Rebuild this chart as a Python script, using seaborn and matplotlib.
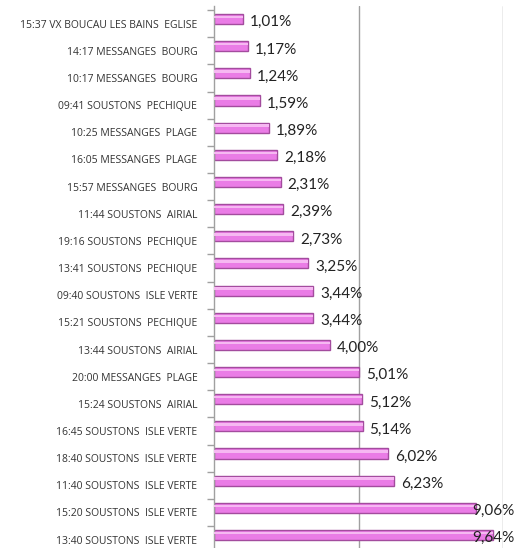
import matplotlib
matplotlib.use("Agg")
import matplotlib.pyplot as plt
import seaborn as sns
import pandas as pd
from matplotlib.ticker import FixedLocator

stops = [
    "15:37 VX BOUCAU LES BAINS  EGLISE",
    "14:17 MESSANGES  BOURG",
    "10:17 MESSANGES  BOURG",
    "09:41 SOUSTONS  PECHIQUE",
    "10:25 MESSANGES  PLAGE",
    "16:05 MESSANGES  PLAGE",
    "15:57 MESSANGES  BOURG",
    "11:44 SOUSTONS  AIRIAL",
    "19:16 SOUSTONS  PECHIQUE",
    "13:41 SOUSTONS  PECHIQUE",
    "09:40 SOUSTONS  ISLE VERTE",
    "15:21 SOUSTONS  PECHIQUE",
    "13:44 SOUSTONS  AIRIAL",
    "20:00 MESSANGES  PLAGE",
    "15:24 SOUSTONS  AIRIAL",
    "16:45 SOUSTONS  ISLE VERTE",
    "18:40 SOUSTONS  ISLE VERTE",
    "11:40 SOUSTONS  ISLE VERTE",
    "15:20 SOUSTONS  ISLE VERTE",
    "13:40 SOUSTONS  ISLE VERTE",
]
shares = [1.01, 1.17, 1.24, 1.59, 1.89, 2.18, 2.31, 2.39, 2.73, 3.25,
          3.44, 3.44, 4.00, 5.01, 5.12, 5.14, 6.02, 6.23, 9.06, 9.64]

df = pd.DataFrame({"stop": stops, "share": shares})

sns.set_theme(style="white")
plt.rcParams["font.family"] = ["Lato", "DejaVu Sans"]

fig = plt.figure(figsize=(5.19, 5.48), dpi=100)
ax = fig.add_axes([214 / 519, 0.0, (503 - 214) / 519, (548 - 6) / 548])

sns.barplot(data=df, y="stop", x="share", order=stops, orient="h",
            color="#EA7CE6", edgecolor="#A34C9E", linewidth=1.0,
            width=0.37, saturation=1, ax=ax)

# lighter highlight along the upper part of each bar
for p in list(ax.patches):
    x0, y0 = p.get_x(), p.get_y()
    w, h = p.get_width(), p.get_height()
    ax.add_patch(plt.Rectangle((x0, y0 + h * 0.18), w, h * 0.25,
                               facecolor="#F6B8F2", edgecolor="none", zorder=3))

ax.set_xlim(0, 10)
ax.set_ylim(19.48, -0.48)
ax.set_xlabel("")
ax.set_ylabel("")
ax.set_xticks([])

# category labels sit a little below the bars (3-D depth offset)
shift = 0.17
ax.set_yticks([i + shift for i in range(len(stops))], labels=stops,
              fontfamily=["Open Sans", "DejaVu Sans"])

for gx in (5, 10):
    ax.axvline(gx, color="#A0A0A0", linewidth=1.0, zorder=0)

for s in ("top", "right", "bottom"):
    ax.spines[s].set_visible(False)
ax.spines["left"].set_color("#A0A0A0")
ax.spines["left"].set_linewidth(1.0)

ax.tick_params(axis="y", which="major", length=0, pad=12, labelsize=7.5,
               labelcolor="#333333")
ax.yaxis.set_minor_locator(FixedLocator([i + 0.5 + shift for i in range(-1, 20)]))
ax.tick_params(axis="y", which="minor", length=5, color="#A0A0A0", width=1,
               left=True)

# value labels
for i, v in enumerate(shares):
    txt = f"{v:.2f}".replace(".", ",") + "%"
    if v > 8.9:
        ax.text(8.93, i + 0.1, txt, va="center", ha="left", fontsize=11,
                color="#222222", zorder=5)
    else:
        ax.annotate(txt, (v, i + 0.12), xytext=(5, 0), textcoords="offset points",
                    va="center", ha="left", fontsize=11, color="#222222")

fig.savefig("out.png", dpi=100)
